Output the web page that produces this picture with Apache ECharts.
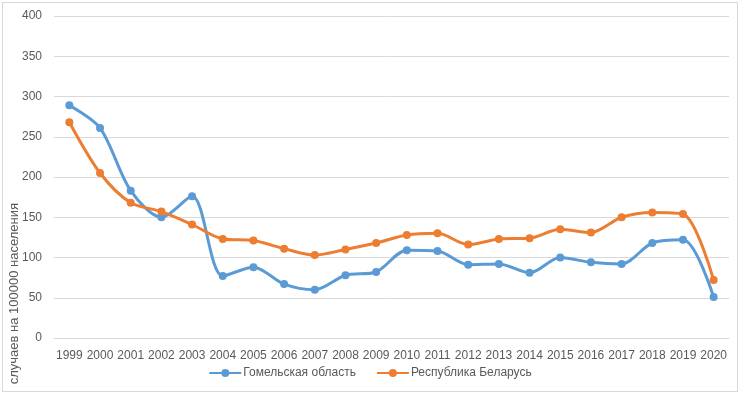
<!DOCTYPE html>
<html>
<head>
<meta charset="utf-8">
<script src="https://cdn.jsdelivr.net/npm/echarts@6/dist/echarts.min.js"></script>
<style>
  html, body { margin: 0; padding: 0; background: #fff; }
  #chart { position: absolute; left: 2px; top: 2px; width: 736px; height: 390px;
           border: 1px solid #d9d9d9; box-sizing: border-box; }
</style>
</head>
<body>
<div id="chart"></div>
<script>
const years = ['1999', '2000', '2001', '2002', '2003', '2004', '2005', '2006', '2007', '2008', '2009',
  '2010', '2011', '2012', '2013', '2014', '2015', '2016', '2017', '2018', '2019', '2020']
const gomel = [289, 261, 183, 150, 176, 77, 88, 67, 60, 78, 82, 109, 108, 91, 92, 81, 100, 94, 92, 118, 122, 51]
const belarus = [268, 205, 168, 157, 141, 123, 121, 111, 103, 110, 118, 128, 130, 116, 123, 124, 135, 131, 150, 156, 154, 72]
const yTicks = { min: 0, max: 400, interval: 50 }
const yName = 'случаев на 100000 населения'

const font = '"Liberation Sans", Arial, sans-serif'
const chart = echarts.init(document.getElementById('chart'))

chart.setOption({
  animation: false,
  textStyle: { fontFamily: font },
  grid: { left: 51, right: 8, top: 13, bottom: 53 },
  legend: {
    bottom: 7, left: 'center', itemWidth: 32, itemHeight: 10, itemGap: 20,
    textStyle: { color: '#595959', fontSize: 12, fontFamily: font, padding: [0, 0, 0, -3] },
    data: ['Гомельская область', 'Республика Беларусь']
  },
  graphic: [{
    type: 'text', left: 5, top: 200, rotation: Math.PI / 2,
    style: { text: yName, fill: '#595959', font: '13px ' + font }
  }],
  xAxis: {
    type: 'category', data: years, boundaryGap: true,
    axisLine: { lineStyle: { color: '#d9d9d9' } },
    axisTick: { show: false },
    axisLabel: { color: '#595959', fontSize: 12, margin: 12, interval: 0 }
  },
  yAxis: {
    type: 'value', ...yTicks,
    axisLine: { show: false }, axisTick: { show: false },
    axisLabel: { color: '#595959', fontSize: 12, margin: 12 },
    splitLine: { lineStyle: { color: '#d9d9d9', width: 1 } }
  },
  series: [
    { name: 'Гомельская область', type: 'line', smooth: 0.3, symbol: 'circle', symbolSize: 8,
      lineStyle: { width: 3, color: '#5b9bd5' }, itemStyle: { color: '#5b9bd5' }, data: gomel },
    { name: 'Республика Беларусь', type: 'line', smooth: 0.3, symbol: 'circle', symbolSize: 8,
      lineStyle: { width: 3, color: '#ed7d31' }, itemStyle: { color: '#ed7d31' }, data: belarus }
  ]
})
</script>
</body>
</html>
